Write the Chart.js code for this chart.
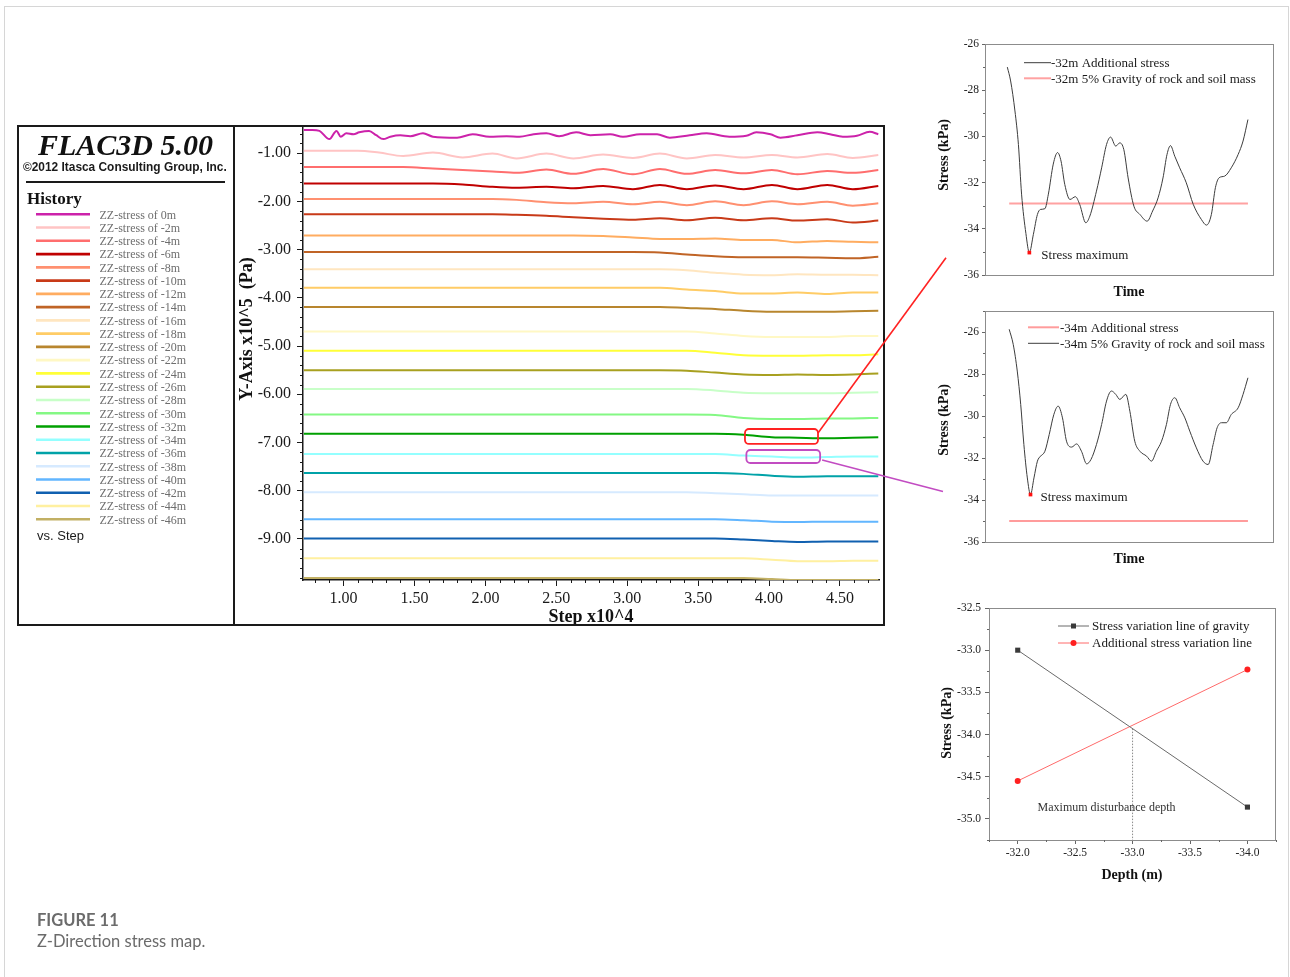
<!DOCTYPE html>
<html>
<head>
<meta charset="utf-8">
<title>Z-Direction stress map</title>
<script src="https://cdn.jsdelivr.net/npm/chart.js@4.4.1/dist/chart.umd.min.js"></script>
<style>
  html, body { margin: 0; padding: 0; background: #ffffff; }
  body { position: relative; width: 1290px; height: 977px; overflow: hidden; }
  canvas { position: absolute; }
  #overlay { position: absolute; left: 0; top: 0; pointer-events: none; }
</style>
</head>
<body>
<canvas id="history" width="648" height="497" style="left:235px;top:127px"></canvas>
<canvas id="depth32" width="350" height="270" style="left:930px;top:35px"></canvas>
<canvas id="depth34" width="350" height="265" style="left:930px;top:305px"></canvas>
<canvas id="depthLine" width="350" height="290" style="left:930px;top:600px"></canvas>
<svg id="overlay" width="1290" height="977" xmlns="http://www.w3.org/2000/svg"></svg>
<script>
const SERIF = "'Liberation Serif', 'Times New Roman', serif";
const SANS = "'Liberation Sans', Arial, sans-serif";

// ---------- FLAC3D history: ZZ-stress (x10^5 Pa) against step (x10^4) ----------
const DEPTHS = [0, -2, -4, -6, -8, -10, -12, -14, -16, -18, -20, -22, -24, -26, -28, -30, -32, -34, -36, -38, -40, -42, -44, -46];
const SERIES_COLORS = ['#cc22aa', '#ffc4c4', '#ff6e6e', '#c00000', '#ff9070', '#c83a18', '#ffac60', '#c06426',
                       '#ffe6c0', '#ffcc66', '#b8862e', '#fff8c4', '#ffff38', '#a8a020', '#c8ffc8', '#84f884',
                       '#00a000', '#94ffff', '#00a2a8', '#d6eaff', '#62b6ff', '#1060b0', '#fff0a0', '#c2b064'];

const STEPS_0M = [0.72, 0.78, 0.83, 0.90, 0.95, 0.98, 1.02, 1.07, 1.11, 1.18, 1.23, 1.28, 1.33, 1.40, 1.47, 1.56,
                  1.63, 1.80, 1.91, 2.03, 2.15, 2.24, 2.34, 2.43, 2.52, 2.64, 2.74, 2.88, 2.97, 3.09, 3.21, 3.30,
                  3.44, 3.56, 3.72, 3.84, 3.91, 4.01, 4.08, 4.20, 4.34, 4.43, 4.52, 4.62, 4.71, 4.77];
const STRESS_0M = [-0.52, -0.52, -0.54, -0.71, -0.54, -0.66, -0.59, -0.61, -0.57, -0.54, -0.63, -0.71, -0.66, -0.63, -0.65, -0.59,
                   -0.66, -0.68, -0.61, -0.66, -0.65, -0.66, -0.61, -0.59, -0.65, -0.57, -0.63, -0.61, -0.66, -0.61, -0.61, -0.68,
                   -0.63, -0.59, -0.66, -0.64, -0.57, -0.61, -0.68, -0.63, -0.57, -0.61, -0.66, -0.64, -0.56, -0.61];

const STEP_GRID = [0.72, 0.9, 1.1, 1.25, 1.42, 1.63, 1.84, 2.05, 2.22, 2.43, 2.62, 2.83, 3.04, 3.23, 3.42, 3.62, 3.82, 4.02, 4.20, 4.41, 4.59, 4.77];
const STRESS_2M  = [-0.95, -0.95, -0.95, -0.99, -1.06, -0.99, -1.09, -1.01, -1.11, -1.01, -1.11, -1.03, -1.10, -1.01, -1.11, -1.04, -1.09, -1.04, -1.09, -1.02, -1.10, -1.04];
const STRESS_4M  = [-1.29, -1.29, -1.29, -1.29, -1.29, -1.32, -1.35, -1.38, -1.41, -1.34, -1.43, -1.33, -1.44, -1.33, -1.43, -1.35, -1.42, -1.35, -1.44, -1.37, -1.41, -1.35];
const STRESS_6M  = [-1.63, -1.63, -1.63, -1.63, -1.63, -1.63, -1.65, -1.70, -1.72, -1.70, -1.73, -1.68, -1.75, -1.66, -1.75, -1.67, -1.75, -1.66, -1.75, -1.66, -1.75, -1.68];
const STRESS_8M  = [-1.95, -1.95, -1.95, -1.95, -1.95, -1.95, -1.95, -1.95, -1.97, -2.02, -2.04, -2.01, -2.06, -2.01, -2.08, -2.00, -2.08, -2.00, -2.06, -2.01, -2.09, -2.04];
const STRESS_10M = [-2.27, -2.27, -2.27, -2.27, -2.27, -2.27, -2.27, -2.27, -2.28, -2.30, -2.33, -2.36, -2.38, -2.35, -2.39, -2.34, -2.39, -2.35, -2.40, -2.37, -2.44, -2.40];
const STRESS_12M = [-2.71, -2.71, -2.71, -2.71, -2.71, -2.71, -2.71, -2.71, -2.71, -2.71, -2.71, -2.72, -2.75, -2.78, -2.78, -2.77, -2.80, -2.80, -2.85, -2.82, -2.84, -2.85];
const STRESS_14M = [-3.05, -3.05, -3.05, -3.05, -3.05, -3.05, -3.05, -3.05, -3.05, -3.05, -3.05, -3.05, -3.05, -3.06, -3.10, -3.14, -3.16, -3.16, -3.16, -3.17, -3.18, -3.15];
const STRESS_16M = [-3.41, -3.41, -3.41, -3.41, -3.41, -3.41, -3.41, -3.41, -3.41, -3.41, -3.41, -3.41, -3.41, -3.41, -3.43, -3.48, -3.52, -3.53, -3.51, -3.52, -3.52, -3.53];
const STRESS_18M = [-3.79, -3.79, -3.79, -3.79, -3.79, -3.79, -3.79, -3.79, -3.79, -3.79, -3.79, -3.79, -3.79, -3.79, -3.83, -3.86, -3.91, -3.91, -3.89, -3.92, -3.89, -3.89];
const STRESS_20M = [-4.19, -4.19, -4.19, -4.19, -4.19, -4.19, -4.19, -4.19, -4.19, -4.19, -4.19, -4.19, -4.19, -4.19, -4.21, -4.23, -4.27, -4.29, -4.29, -4.29, -4.28, -4.27];
const STRESS_22M = [-4.70, -4.70, -4.70, -4.70, -4.70, -4.70, -4.70, -4.70, -4.70, -4.70, -4.70, -4.70, -4.70, -4.70, -4.70, -4.74, -4.79, -4.81, -4.81, -4.81, -4.79, -4.79];
const STRESS_24M = [-5.10, -5.10, -5.10, -5.10, -5.10, -5.10, -5.10, -5.10, -5.10, -5.10, -5.10, -5.10, -5.10, -5.10, -5.10, -5.14, -5.19, -5.20, -5.20, -5.19, -5.19, -5.17];
const STRESS_26M = [-5.50, -5.50, -5.50, -5.50, -5.50, -5.50, -5.50, -5.50, -5.50, -5.50, -5.50, -5.50, -5.50, -5.50, -5.51, -5.55, -5.59, -5.60, -5.59, -5.60, -5.59, -5.57];
const STRESS_28M = [-5.89, -5.89, -5.89, -5.89, -5.89, -5.89, -5.89, -5.89, -5.89, -5.89, -5.89, -5.89, -5.89, -5.89, -5.89, -5.92, -5.97, -5.98, -5.98, -5.98, -5.97, -5.96];
const STRESS_30M = [-6.42, -6.42, -6.42, -6.42, -6.42, -6.42, -6.42, -6.42, -6.42, -6.42, -6.42, -6.42, -6.42, -6.42, -6.42, -6.43, -6.49, -6.51, -6.51, -6.50, -6.50, -6.49];
const STRESS_32M = [-6.82, -6.82, -6.82, -6.82, -6.82, -6.82, -6.82, -6.82, -6.82, -6.82, -6.82, -6.82, -6.82, -6.82, -6.82, -6.82, -6.84, -6.89, -6.90, -6.91, -6.90, -6.89];
const STRESS_34M = [-7.24, -7.24, -7.24, -7.24, -7.24, -7.24, -7.24, -7.24, -7.24, -7.24, -7.24, -7.24, -7.24, -7.24, -7.24, -7.24, -7.27, -7.29, -7.31, -7.30, -7.29, -7.29];
const STRESS_36M = [-7.63, -7.63, -7.63, -7.63, -7.63, -7.63, -7.63, -7.63, -7.63, -7.63, -7.63, -7.63, -7.63, -7.63, -7.63, -7.63, -7.65, -7.69, -7.71, -7.70, -7.70, -7.70];
const STRESS_38M = [-8.03, -8.03, -8.03, -8.03, -8.03, -8.03, -8.03, -8.03, -8.03, -8.03, -8.03, -8.03, -8.03, -8.03, -8.03, -8.05, -8.07, -8.10, -8.10, -8.10, -8.10, -8.10];
const STRESS_40M = [-8.59, -8.59, -8.59, -8.59, -8.59, -8.59, -8.59, -8.59, -8.59, -8.59, -8.59, -8.59, -8.59, -8.59, -8.59, -8.59, -8.61, -8.64, -8.65, -8.64, -8.64, -8.64];
const STRESS_42M = [-8.99, -8.99, -8.99, -8.99, -8.99, -8.99, -8.99, -8.99, -8.99, -8.99, -8.99, -8.99, -8.99, -8.99, -8.99, -8.99, -9.01, -9.04, -9.06, -9.05, -9.05, -9.05];
const STRESS_44M = [-9.40, -9.40, -9.40, -9.40, -9.40, -9.40, -9.40, -9.40, -9.40, -9.40, -9.40, -9.40, -9.40, -9.40, -9.40, -9.40, -9.40, -9.43, -9.46, -9.46, -9.45, -9.45];
const STRESS_46M = [-9.81, -9.81, -9.81, -9.81, -9.81, -9.81, -9.81, -9.81, -9.81, -9.81, -9.81, -9.81, -9.81, -9.81, -9.81, -9.81, -9.81, -9.83, -9.85, -9.85, -9.85, -9.85];
const GRID_SERIES = [STRESS_2M, STRESS_4M, STRESS_6M, STRESS_8M, STRESS_10M, STRESS_12M, STRESS_14M, STRESS_16M,
                     STRESS_18M, STRESS_20M, STRESS_22M, STRESS_24M, STRESS_26M, STRESS_28M, STRESS_30M, STRESS_32M,
                     STRESS_34M, STRESS_36M, STRESS_38M, STRESS_40M, STRESS_42M, STRESS_44M, STRESS_46M];
const HISTORY_Y_TICKS = [-1, -2, -3, -4, -5, -6, -7, -8, -9];
const HISTORY_X_TICKS = [1.0, 1.5, 2.0, 2.5, 3.0, 3.5, 4.0, 4.5];

// ---------- -32 m: additional stress against time ----------
const TIME_32 = [7.75, 8.9, 10.4, 11.6, 12.7, 14.2, 15.4, 16.8, 18.2, 19.3, 20.8, 22.0, 23.7, 25.2, 26.4, 27.7, 29.5,
                 31.4, 32.9, 35.0, 36.4, 38.7, 40.5, 42.2, 43.6, 45.4, 46.8, 48.2, 49.7, 51.7, 53.8, 56.3, 58.2, 60.1,
                 61.8, 63.2, 64.4, 65.9, 67.6, 69.9, 72.3, 75.1, 76.9, 78.6, 80.0, 81.3, 83.2, 85.5, 87.9, 89.6, 91.3];
const STRESS_32 = [-27.0, -27.6, -28.9, -30.35, -32.5, -34.2, -35.03, -34.24, -33.38, -33.16, -33.13, -32.5, -31.2, -30.7,
                   -31.07, -32.08, -32.73, -32.61, -32.95, -33.74, -33.45, -32.37, -31.36, -30.35, -30.03, -30.42, -30.28,
                   -30.57, -31.8, -33.02, -33.38, -33.67, -33.23, -32.66, -31.8, -30.78, -30.4, -30.86, -31.36, -32.01,
                   -32.94, -33.59, -33.84, -33.38, -32.22, -31.79, -31.72, -31.36, -30.78, -30.2, -29.27];
const LEVEL_TIME_32 = [8.4, 91.3];
const LEVEL_32 = [-32.9, -32.9];

// ---------- -34 m: stress against time ----------
const TIME_34 = [8.4, 9.8, 11.2, 12.4, 13.5, 14.7, 15.8, 17.0, 18.2, 19.3, 20.8, 22.3, 23.9, 25.4, 26.9, 28.3, 30.1,
                 31.8, 33.5, 35.3, 36.8, 38.7, 40.5, 42.2, 43.9, 45.4, 46.8, 48.9, 50.3, 52.0, 53.8, 56.1, 57.8, 59.5,
                 61.3, 63.0, 64.4, 65.9, 67.6, 69.4, 71.1, 73.4, 75.7, 77.5, 79.2, 80.6, 82.1, 83.8, 85.5, 87.9, 89.6, 91.3];
const STRESS_34 = [-25.87, -26.59, -27.86, -29.45, -31.36, -32.95, -33.74, -32.95, -32.15, -31.91, -31.68, -30.88, -29.93,
                   -29.53, -30.09, -31.2, -31.48, -31.33, -31.68, -32.28, -32.07, -31.36, -30.4, -29.29, -28.81, -28.97,
                   -29.21, -28.97, -29.77, -31.2, -31.68, -31.91, -32.15, -31.68, -31.2, -30.4, -29.45, -29.13, -29.61,
                   -30.09, -30.72, -31.52, -32.15, -32.31, -31.36, -30.56, -30.32, -30.32, -29.93, -29.61, -28.97, -28.18];
const LEVEL_TIME_34 = [8.4, 91.3];
const LEVEL_34 = [-35.0, -35.0];
const TIME_STRESS_TICKS = [-26, -28, -30, -32, -34, -36];

// ---------- stress against depth ----------
const DEPTH = [-32.0, -34.0];
const GRAVITY_LINE = [-33.0, -34.86];
const ADDITIONAL_LINE = [-34.55, -33.23];
const DISTURBANCE_DEPTH = -33.0;
const DEPTH_TICKS = [-32.0, -32.5, -33.0, -33.5, -34.0];
const DEPTH_STRESS_TICKS = [-32.5, -33.0, -33.5, -34.0, -34.5, -35.0];

// ---------- helpers ----------
const pts = (xs, ys) => xs.map((x, i) => ({ x, y: ys[i] }));
const px = v => Math.round(v) + 0.5;

function minorTicks(chart, axis, from, to, step, skip, len, color) {
  const { ctx, chartArea: a } = chart;
  const s = chart.scales[axis];
  const n = Math.round((to - from) / step);
  ctx.save();
  ctx.strokeStyle = color; ctx.lineWidth = 1;
  ctx.beginPath();
  for (let k = 0; k <= n; k++) {
    const v = from + k * step;
    if (skip(v)) continue;
    const p = px(s.getPixelForValue(v));
    if (axis === 'y') { ctx.moveTo(a.left, p); ctx.lineTo(a.left - len, p); }
    else { ctx.moveTo(p, a.bottom); ctx.lineTo(p, a.bottom + len); }
  }
  ctx.stroke();
  ctx.restore();
}
const onMultiple = (m) => (v) => Math.abs(v / m - Math.round(v / m)) < 1e-6;

function drawFrame(chart, color) {
  const { ctx, chartArea: a } = chart;
  ctx.save();
  ctx.strokeStyle = color; ctx.lineWidth = 1;
  ctx.strokeRect(px(a.left), px(a.top), Math.round(a.right - a.left), Math.round(a.bottom - a.top));
  ctx.restore();
}

function axisTitles(chart, xText, xBaseline, yText, yBaseline, yCenter, font) {
  const { ctx, chartArea: a } = chart;
  ctx.save();
  ctx.fillStyle = '#111';
  ctx.font = font;
  ctx.textAlign = 'center';
  ctx.textBaseline = 'alphabetic';
  ctx.fillText(xText, (a.left + a.right) / 2, xBaseline);
  ctx.translate(yBaseline, yCenter);
  ctx.rotate(-Math.PI / 2);
  ctx.fillText(yText, 0, 0);
  ctx.restore();
}

function legendRows(chart, rows, x0, x1, textX) {
  const ctx = chart.ctx;
  ctx.save();
  ctx.font = `13px ${SERIF}`;
  ctx.textBaseline = 'middle';
  ctx.textAlign = 'left';
  rows.forEach(r => {
    ctx.strokeStyle = r.color; ctx.lineWidth = r.width;
    ctx.beginPath(); ctx.moveTo(x0, r.y); ctx.lineTo(x1, r.y); ctx.stroke();
    if (r.marker === 'rect') { ctx.fillStyle = r.markerColor; ctx.fillRect((x0 + x1) / 2 - 2.5, r.y - 2.5, 5, 5); }
    if (r.marker === 'circle') { ctx.fillStyle = r.markerColor; ctx.beginPath(); ctx.arc((x0 + x1) / 2, r.y, 3, 0, Math.PI * 2); ctx.fill(); }
    ctx.fillStyle = '#1a1a1a';
    ctx.fillText(r.text, textX, r.y + 1);
  });
  ctx.restore();
}

function fixedTicks(values) { return (scale) => { scale.ticks = values.map(v => ({ value: v })); }; }
// keep the plot area where the layout puts it: no extra room for overhanging tick labels
function fixedSize(dim, size) {
  return (scale) => {
    scale[dim] = size;
    scale.paddingTop = 0; scale.paddingBottom = 0; scale.paddingLeft = 0; scale.paddingRight = 0;
  };
}

Chart.defaults.font.family = SERIF;

// ---------- FLAC3D history chart ----------
const historyDecor = {
  id: 'historyDecor',
  afterDraw(chart) {
    minorTicks(chart, 'y', -9.8, -0.6, 0.2, onMultiple(1), 3, '#1a1a1a');
    minorTicks(chart, 'x', 0.8, 4.7, 0.1, onMultiple(0.5), 3, '#1a1a1a');
    axisTitles(chart, 'Step x10^4', chart.chartArea.bottom + 42, 'Y-Axis x10^5  (Pa)', 17, 202, `bold 18px ${SERIF}`);
  }
};

const historyChart = new Chart(document.getElementById('history'), {
  type: 'line',
  data: {
    datasets: DEPTHS.map((d, i) => ({
      label: `ZZ-stress of ${d}m`,
      data: i === 0 ? pts(STEPS_0M, STRESS_0M) : pts(STEP_GRID, GRID_SERIES[i - 1]),
      borderColor: SERIES_COLORS[i],
      borderWidth: 2,
      pointRadius: 0,
      fill: false,
      cubicInterpolationMode: 'monotone'
    }))
  },
  options: {
    responsive: false, animation: false, events: [],
    layout: { padding: { top: 1, right: 4, left: 0, bottom: 0 } },
    plugins: { legend: { display: false }, tooltip: { enabled: false } },
    scales: {
      x: {
        type: 'linear', min: 0.714, max: 4.775,
        afterBuildTicks: fixedTicks(HISTORY_X_TICKS),
        afterFit: fixedSize('height', 44),
        ticks: { callback: v => v.toFixed(2), font: { size: 16 }, color: '#1a1a1a', padding: 3, maxRotation: 0, autoSkip: false },
        grid: { display: true, drawOnChartArea: false, drawTicks: true, tickLength: 6, color: '#1a1a1a', lineWidth: 1 },
        border: { display: true, color: '#1a1a1a', width: 1.5 }
      },
      y: {
        type: 'linear', min: -9.85, max: -0.48,
        afterBuildTicks: fixedTicks(HISTORY_Y_TICKS),
        afterFit: fixedSize('width', 68),
        ticks: { callback: v => v.toFixed(2), font: { size: 16 }, color: '#1a1a1a', padding: 6, autoSkip: false },
        grid: { display: true, drawOnChartArea: false, drawTicks: true, tickLength: 6, color: '#1a1a1a', lineWidth: 1 },
        border: { display: true, color: '#1a1a1a', width: 1.5 }
      }
    }
  },
  plugins: [historyDecor]
});

// ---------- shared options for the time-history panels ----------
function timeScales(yMin, yMax, chartLeftWidth, bottomHeight) {
  return {
    x: {
      type: 'linear', min: 0, max: 100,
      ticks: { display: false }, grid: { display: false }, border: { display: false },
      afterFit: fixedSize('height', bottomHeight)
    },
    y: {
      type: 'linear', min: yMin, max: yMax,
      afterBuildTicks: fixedTicks(TIME_STRESS_TICKS),
      afterFit: fixedSize('width', chartLeftWidth),
      ticks: { callback: v => String(v), font: { size: 11.5 }, color: '#222', padding: 3, autoSkip: false },
      grid: { display: true, drawOnChartArea: false, drawTicks: true, tickLength: 3, color: '#666' },
      border: { display: false }
    }
  };
}

function minimumPoint(xs, ys) {
  let k = 0;
  ys.forEach((v, i) => { if (v < ys[k]) k = i; });
  return { x: xs[k], y: ys[k] };
}

function maxLabel(chart, dx, dy) {
  const meta = chart.getDatasetMeta(0);
  const p = meta.data[0];
  const ctx = chart.ctx;
  ctx.save();
  ctx.font = `13px ${SERIF}`;
  ctx.fillStyle = '#1a1a1a';
  ctx.textBaseline = 'alphabetic';
  ctx.fillText('Stress maximum', p.x + dx, p.y + dy);
  ctx.restore();
}

// ---------- -32 m panel ----------
const min32 = minimumPoint(TIME_32, STRESS_32);
const chart32 = new Chart(document.getElementById('depth32'), {
  type: 'line',
  data: {
    datasets: [
      { label: 'Stress maximum', data: [min32], showLine: false, pointStyle: 'rect', pointRadius: 2.6,
        pointBackgroundColor: '#ff1010', pointBorderWidth: 0 },
      { label: '-32m Additional stress', data: pts(TIME_32, STRESS_32), borderColor: '#3c3c3c', borderWidth: 1,
        pointRadius: 0, cubicInterpolationMode: 'monotone' },
      { label: '-32m 5% Gravity of rock and soil mass', data: pts(LEVEL_TIME_32, LEVEL_32), borderColor: '#ffa2a2',
        borderWidth: 2, pointRadius: 0 }
    ]
  },
  options: {
    responsive: false, animation: false, events: [],
    layout: { padding: { top: 9, right: 7, left: 0, bottom: 0 } },
    plugins: { legend: { display: false }, tooltip: { enabled: false } },
    scales: timeScales(-36, -26, 55, 30)
  },
  plugins: [{
    id: 'panel32',
    afterDraw(chart) {
      drawFrame(chart, '#8c8c8c');
      minorTicks(chart, 'y', -35, -27, 2, () => false, 2, '#666');
      axisTitles(chart, 'Time', 261, 'Stress (kPa)', 18, 120, `bold 14px ${SERIF}`);
      legendRows(chart, [
        { y: 27.7, color: '#3c3c3c', width: 1, text: '-32m Additional stress' },
        { y: 43.3, color: '#ffa2a2', width: 2, text: '-32m 5% Gravity of rock and soil mass' }
      ], 94, 121, 121);
      maxLabel(chart, 12, 6);
    }
  }]
});

// ---------- -34 m panel ----------
const min34 = minimumPoint(TIME_34, STRESS_34);
const chart34 = new Chart(document.getElementById('depth34'), {
  type: 'line',
  data: {
    datasets: [
      { label: 'Stress maximum', data: [min34], showLine: false, pointStyle: 'rect', pointRadius: 2.6,
        pointBackgroundColor: '#ff1010', pointBorderWidth: 0 },
      { label: '-34m 5% Gravity of rock and soil mass', data: pts(TIME_34, STRESS_34), borderColor: '#3c3c3c', borderWidth: 1,
        pointRadius: 0, cubicInterpolationMode: 'monotone' },
      { label: '-34m Additional stress', data: pts(LEVEL_TIME_34, LEVEL_34), borderColor: '#ff9c9c',
        borderWidth: 2, pointRadius: 0 }
    ]
  },
  options: {
    responsive: false, animation: false, events: [],
    layout: { padding: { top: 6, right: 7, left: 0, bottom: 0 } },
    plugins: { legend: { display: false }, tooltip: { enabled: false } },
    scales: timeScales(-36, -25, 55, 28)
  },
  plugins: [{
    id: 'panel34',
    afterDraw(chart) {
      drawFrame(chart, '#8c8c8c');
      minorTicks(chart, 'y', -35, -25, 2, () => false, 2, '#666');
      axisTitles(chart, 'Time', 258, 'Stress (kPa)', 18, 115, `bold 14px ${SERIF}`);
      legendRows(chart, [
        { y: 22.3, color: '#ff9c9c', width: 2, text: '-34m Additional stress' },
        { y: 38.3, color: '#3c3c3c', width: 1, text: '-34m 5% Gravity of rock and soil mass' }
      ], 98, 129, 130);
      maxLabel(chart, 10, 6);
    }
  }]
});

// ---------- stress against depth panel ----------
const crossingStress = GRAVITY_LINE[0] + (GRAVITY_LINE[1] - GRAVITY_LINE[0]) * (DISTURBANCE_DEPTH - DEPTH[0]) / (DEPTH[1] - DEPTH[0]);
const DEPTH_STRESS_MIN = -35.25;
const chartDepth = new Chart(document.getElementById('depthLine'), {
  type: 'line',
  data: {
    datasets: [
      { label: 'Stress variation line of gravity', data: pts(DEPTH, GRAVITY_LINE), borderColor: '#6a6a6a', borderWidth: 1,
        pointStyle: 'rect', pointRadius: 3.6, pointBackgroundColor: '#3a3a3a', pointBorderWidth: 0 },
      { label: 'Additional stress variation line', data: pts(DEPTH, ADDITIONAL_LINE), borderColor: '#ff6a6a', borderWidth: 1,
        pointStyle: 'circle', pointRadius: 3, pointBackgroundColor: '#ff2020', pointBorderWidth: 0 },
      { label: 'Maximum disturbance depth', data: pts([DISTURBANCE_DEPTH, DISTURBANCE_DEPTH], [crossingStress, DEPTH_STRESS_MIN]),
        borderColor: '#8a8a8a', borderWidth: 1, borderDash: [1.5, 1.5], pointRadius: 0 }
    ]
  },
  options: {
    responsive: false, animation: false, events: [],
    layout: { padding: { top: 8, right: 5, left: 0, bottom: 0 } },
    plugins: { legend: { display: false }, tooltip: { enabled: false } },
    scales: {
      x: {
        type: 'linear', min: -34.24, max: -31.75, reverse: true,
        afterBuildTicks: fixedTicks(DEPTH_TICKS),
        afterFit: fixedSize('height', 50),
        ticks: { callback: v => v.toFixed(1), font: { size: 11.5 }, color: '#222', padding: 2, maxRotation: 0, autoSkip: false },
        grid: { display: true, drawOnChartArea: false, drawTicks: true, tickLength: 4, color: '#666' },
        border: { display: false }
      },
      y: {
        type: 'linear', min: DEPTH_STRESS_MIN, max: -32.5,
        afterBuildTicks: fixedTicks(DEPTH_STRESS_TICKS),
        afterFit: fixedSize('width', 59),
        ticks: { callback: v => v.toFixed(1), font: { size: 11.5 }, color: '#222', padding: 4, autoSkip: false },
        grid: { display: true, drawOnChartArea: false, drawTicks: true, tickLength: 4, color: '#666' },
        border: { display: false }
      }
    }
  },
  plugins: [{
    id: 'panelDepth',
    afterDraw(chart) {
      drawFrame(chart, '#8c8c8c');
      minorTicks(chart, 'y', -35.25, -32.75, 0.5, () => false, 2, '#666');
      minorTicks(chart, 'x', -34.25, -31.75, 0.5, () => false, 2, '#666');
      axisTitles(chart, 'Depth (m)', 279, 'Stress (kPa)', 21, 123, `bold 14px ${SERIF}`);
      legendRows(chart, [
        { y: 26, color: '#6a6a6a', width: 1, marker: 'rect', markerColor: '#3a3a3a', text: 'Stress variation line of gravity' },
        { y: 43, color: '#ff6a6a', width: 1, marker: 'circle', markerColor: '#ff2020', text: 'Additional stress variation line' }
      ], 128, 159, 162);
      const ctx = chart.ctx;
      ctx.save();
      ctx.font = `12px ${SERIF}`;
      ctx.fillStyle = '#333';
      ctx.textAlign = 'center';
      ctx.textBaseline = 'middle';
      ctx.fillText('Maximum disturbance depth', chart.scales.x.getPixelForValue(DISTURBANCE_DEPTH) - 26,
                   chart.scales.y.getPixelForValue(-34.87));
      ctx.restore();
    }
  }]
});

// ---------- page furniture: frames, history legend, callouts, caption ----------
const svg = document.getElementById('overlay');
const NS = 'http://www.w3.org/2000/svg';
function el(tag, attrs, text) {
  const e = document.createElementNS(NS, tag);
  Object.entries(attrs).forEach(([k, v]) => e.setAttribute(k, v));
  if (text !== undefined) e.textContent = text;
  svg.appendChild(e);
  return e;
}

el('rect', { x: 4.5, y: 6.5, width: 1284, height: 1000, fill: 'none', stroke: '#d6d6d6', 'stroke-width': 1 });
el('rect', { x: 18, y: 126, width: 866, height: 499, fill: 'none', stroke: '#1a1a1a', 'stroke-width': 2 });
el('line', { x1: 234, y1: 126, x2: 234, y2: 625, stroke: '#1a1a1a', 'stroke-width': 2 });

el('text', { x: 38, y: 155, 'font-family': SERIF, 'font-size': 30, 'font-weight': 'bold', 'font-style': 'italic', fill: '#111' }, 'FLAC3D 5.00');
el('text', { x: 23, y: 171, 'font-family': SANS, 'font-size': 11.9, 'font-weight': 'bold', fill: '#1a1a1a' }, '\u00a92012 Itasca Consulting Group, Inc.');
el('line', { x1: 26, y1: 182, x2: 225, y2: 182, stroke: '#1a1a1a', 'stroke-width': 2 });
el('text', { x: 27, y: 204, 'font-family': SERIF, 'font-size': 17, 'font-weight': 'bold', fill: '#111' }, 'History');

historyChart.data.datasets.forEach((ds, i) => {
  const y = 214.3 + i * 13.26;
  el('line', { x1: 36, y1: y, x2: 90, y2: y, stroke: ds.borderColor, 'stroke-width': 2.6 });
  el('text', { x: 99.5, y: y + 4.3, 'font-family': SERIF, 'font-size': 12, fill: '#6e6e6e' }, ds.label);
});
el('text', { x: 37, y: 539.5, 'font-family': SANS, 'font-size': 13, fill: '#1a1a1a' }, 'vs. Step');

// callouts linking the history chart to the two time panels
const HIST = { left: 235, top: 127 }, P32 = { left: 930, top: 35 }, P34 = { left: 930, top: 305 };
const hx = historyChart.scales.x, hy = historyChart.scales.y;
function calloutBox(s0, s1, v0, v1, color) {
  const x0 = HIST.left + hx.getPixelForValue(s0), x1 = HIST.left + hx.getPixelForValue(s1);
  const y0 = HIST.top + hy.getPixelForValue(v0), y1 = HIST.top + hy.getPixelForValue(v1);
  el('rect', { x: x0, y: y0, width: x1 - x0, height: y1 - y0, rx: 4, ry: 4, fill: 'none', stroke: color, 'stroke-width': 1.8 });
  return { x0, x1, y0, y1 };
}
const boxRed = calloutBox(3.83, 4.345, -6.72, -7.03, '#ff2222');
el('line', { x1: boxRed.x1, y1: boxRed.y0 + 4, x2: P32.left + 16, y2: P32.top + chart32.scales.y.getPixelForValue(-35.25),
             stroke: '#ff2222', 'stroke-width': 1.6 });
const boxViolet = calloutBox(3.84, 4.36, -7.155, -7.425, '#c24cc2');
el('line', { x1: boxViolet.x1 + 2, y1: boxViolet.y0 + 10, x2: P34.left + 13, y2: P34.top + chart34.scales.y.getPixelForValue(-33.6),
             stroke: '#c24cc2', 'stroke-width': 1.6 });

el('text', { x: 37, y: 925.7, 'font-family': 'Lato, sans-serif', 'font-size': 16.5, 'font-weight': 'bold', fill: '#6b6b6b' }, 'FIGURE 11');
el('text', { x: 37, y: 946.7, 'font-family': 'Lato, sans-serif', 'font-size': 16.5, fill: '#6b6b6b' }, 'Z-Direction stress map.');
</script>
</body>
</html>
